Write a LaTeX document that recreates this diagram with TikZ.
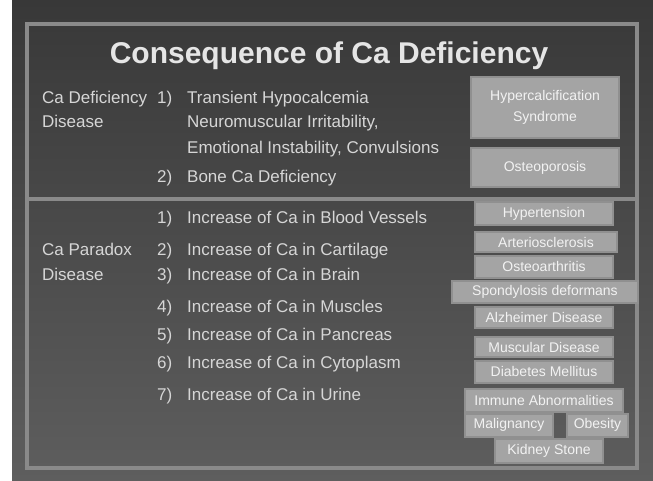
\documentclass[tikz,border=0pt]{standalone}
\usepackage{fontspec}
\setmainfont{Liberation Sans}
\usepackage{graphicx}
\definecolor{bgtop}{HTML}{383838}
\definecolor{bgbot}{HTML}{5E5E5E}
\definecolor{framec}{HTML}{8A8A8A}
\definecolor{textc}{HTML}{D6D6D6}
\definecolor{boxfill}{HTML}{A4A4A4}
\definecolor{boxedge}{HTML}{909090}
\definecolor{boxtext}{HTML}{F2F2F2}
\begin{document}
\begin{tikzpicture}[x=1pt,y=-1pt,
 lbl/.style={anchor=west,inner sep=0pt,text=textc,font=\fontsize{17}{19}\selectfont,text height=12.5pt,text depth=3.5pt},
 cbox/.style={fill=boxfill,draw=boxedge,line width=2pt,text=boxtext,font=\fontsize{14}{16}\selectfont,inner sep=0pt,align=center},
 framel/.style={draw=framec,line width=3.5pt}]
\useasboundingbox (0,0) rectangle (653,481);
\fill[white] (0,0) rectangle (653,481);
\shade[top color=bgtop,bottom color=bgbot] (12,0) rectangle (653,481);
\draw[framel] (27,24) rectangle (637,468);
\draw[framel] (27,199) -- (637,199);
% title
\node[font=\bfseries\fontsize{30}{34}\selectfont,text=white!90!black,inner sep=0pt] (title) at (329,56) {Consequence of Ca Deficiency};
% upper section
\node[lbl] (cd1) at (42,99) {Ca Deficiency};
\node[lbl] (cd2) at (42,123) {Disease};
\node[lbl] (n1) at (157,99) {1)};
\node[lbl] (u1) at (187,99) {Transient Hypocalcemia};
\node[lbl] (u2) at (187,123) {Neuromuscular Irritability,};
\node[lbl] (u3) at (187,149) {Emotional Instability, Convulsions};
\node[lbl] (n2) at (157,178) {2)};
\node[lbl] (u4) at (187,178) {Bone Ca Deficiency};
\node[cbox,minimum width=148pt,minimum height=61pt] (hcs) at (545,107.5) {Hypercalcification\\[5pt]Syndrome};
\node[cbox,minimum width=148pt,minimum height=39pt] (ost) at (545,167.5) {Osteoporosis};
% lower section
\node[lbl] (cp1) at (42,251) {Ca Paradox};
\node[lbl] (cp2) at (42,276) {Disease};
\node[lbl] (m1) at (157,219) {1)};
\node[lbl] (l1) at (187,219) {Increase of Ca in Blood Vessels};
\node[lbl] (m2) at (157,251) {2)};
\node[lbl] (l2) at (187,251) {Increase of Ca in Cartilage};
\node[lbl] (m3) at (157,276) {3)};
\node[lbl] (l3) at (187,276) {Increase of Ca in Brain};
\node[lbl] (m4) at (157,308) {4)};
\node[lbl] (l4) at (187,308) {Increase of Ca in Muscles};
\node[lbl] (m5) at (157,336) {5)};
\node[lbl] (l5) at (187,336) {Increase of Ca in Pancreas};
\node[lbl] (m6) at (157,364) {6)};
\node[lbl] (l6) at (187,364) {Increase of Ca in Cytoplasm};
\node[lbl] (m7) at (157,396) {7)};
\node[lbl] (l7) at (187,396) {Increase of Ca in Urine};
% disease boxes
\node[cbox,minimum width=138pt,minimum height=22pt] (hyp) at (544,213.5) {Hypertension};
\node[cbox,minimum width=142pt,minimum height=20pt] (art) at (546,242) {Arteriosclerosis};
\node[cbox,minimum width=138pt,minimum height=22pt] (oa) at (544,266.5) {Osteoarthritis};
\node[cbox,minimum width=186pt,minimum height=22pt] (spo) at (545,291.5) {Spondylosis deformans};
\node[cbox,minimum width=138pt,minimum height=21pt] (alz) at (544,317.5) {Alzheimer Disease};
\node[cbox,minimum width=138pt,minimum height=20pt] (mus) at (544,347) {Muscular Disease};
\node[cbox,minimum width=138pt,minimum height=22pt] (dia) at (544,371.5) {Diabetes Mellitus};
\node[cbox,minimum width=158pt,minimum height=23pt] (imm) at (544,400) {Immune Abnormalities};
\node[cbox,minimum width=88pt,minimum height=23pt] (mal) at (509,425) {Malignancy};
\node[cbox,minimum width=61pt,minimum height=23pt] (obe) at (597.5,425) {Obesity};
\node[cbox,minimum width=108pt,minimum height=24pt] (kid) at (549,450.5) {Kidney Stone};
\end{tikzpicture}
\end{document}
